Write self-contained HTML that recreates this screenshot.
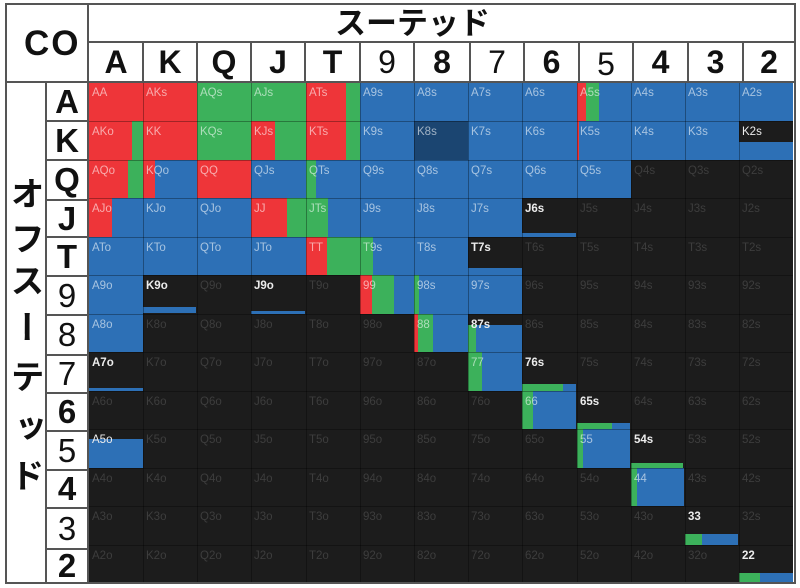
<!DOCTYPE html>
<html><head><meta charset="utf-8">
<style>
*{margin:0;padding:0;box-sizing:border-box}
html,body{width:800px;height:588px;background:#fff;overflow:hidden}
body{position:relative;font-family:"Liberation Sans","Noto Sans CJK JP",sans-serif}
.a{position:absolute}
#g{position:absolute;left:89px;top:82px;width:704px;height:500px;background:#1c1c1c}
.f{position:absolute}
.R{background:#ee3539}.G{background:#3cb15b}.B{background:#2d70b6}.D{background:#1b4571}
.vl{position:absolute;top:82px;width:1px;height:500px;background:rgba(0,0,0,.32)}
.hl{position:absolute;left:89px;width:704px;height:1px;background:rgba(0,0,0,.32)}
.r{position:absolute;left:0;width:800px;height:14px}
.r i{position:absolute;font-style:normal;font-size:11.5px;line-height:12px;white-space:nowrap}
.c{color:rgba(255,255,255,.58)}
.b{color:#ececec;font-weight:bold}
.d{color:#3d3d3d}
.ln{position:absolute;background:#555}
.hd{position:absolute;top:46px;height:32px;font-size:32px;line-height:32px;font-weight:bold;text-align:center;color:#111}
.lb{position:absolute;left:46px;width:42px;font-size:33px;line-height:33px;font-weight:bold;text-align:center;color:#111}
.v{position:absolute;left:7px;width:40px;height:34px;writing-mode:vertical-rl;font-family:"Noto Sans CJK JP",sans-serif;font-size:34px;line-height:40px;font-weight:bold;color:#111}
</style></head><body>

<div id="g"></div>
<!-- Row A -->
<div class="f R" style="left:89px;top:82px;width:108px;height:39px"></div>
<div class="f G" style="left:197px;top:82px;width:109px;height:39px"></div>
<div class="f R" style="left:306px;top:82px;width:40px;height:39px"></div>
<div class="f G" style="left:346px;top:82px;width:14px;height:39px"></div>
<div class="f B" style="left:360px;top:82px;width:217px;height:39px"></div>
<div class="f R" style="left:577px;top:82px;width:9px;height:39px"></div>
<div class="f G" style="left:586px;top:82px;width:13px;height:39px"></div>
<div class="f B" style="left:599px;top:82px;width:194px;height:39px"></div>
<!-- Row K -->
<div class="f R" style="left:89px;top:121px;width:43px;height:39px"></div>
<div class="f G" style="left:132px;top:121px;width:11px;height:39px"></div>
<div class="f R" style="left:143px;top:121px;width:54px;height:39px"></div>
<div class="f G" style="left:197px;top:121px;width:54px;height:39px"></div>
<div class="f R" style="left:251px;top:121px;width:24px;height:39px"></div>
<div class="f G" style="left:275px;top:121px;width:31px;height:39px"></div>
<div class="f R" style="left:306px;top:121px;width:40px;height:39px"></div>
<div class="f G" style="left:346px;top:121px;width:14px;height:39px"></div>
<div class="f B" style="left:360px;top:121px;width:54px;height:39px"></div>
<div class="f D" style="left:414px;top:121px;width:54px;height:39px"></div>
<div class="f B" style="left:468px;top:121px;width:271px;height:39px"></div>
<div class="f R" style="left:577px;top:121px;width:2px;height:39px"></div>
<div class="f B" style="left:739px;top:142px;width:54px;height:18px"></div>
<!-- Row Q -->
<div class="f R" style="left:89px;top:160px;width:39px;height:38px"></div>
<div class="f G" style="left:128px;top:160px;width:15px;height:38px"></div>
<div class="f R" style="left:143px;top:160px;width:12px;height:38px"></div>
<div class="f B" style="left:155px;top:160px;width:42px;height:38px"></div>
<div class="f R" style="left:197px;top:160px;width:54px;height:38px"></div>
<div class="f B" style="left:251px;top:160px;width:55px;height:38px"></div>
<div class="f G" style="left:306px;top:160px;width:10px;height:38px"></div>
<div class="f B" style="left:316px;top:160px;width:315px;height:38px"></div>
<!-- Row J -->
<div class="f R" style="left:89px;top:198px;width:23px;height:39px"></div>
<div class="f B" style="left:112px;top:198px;width:139px;height:39px"></div>
<div class="f R" style="left:251px;top:198px;width:36px;height:39px"></div>
<div class="f G" style="left:287px;top:198px;width:19px;height:39px"></div>
<div class="f G" style="left:306px;top:198px;width:22px;height:39px"></div>
<div class="f B" style="left:328px;top:198px;width:194px;height:39px"></div>
<div class="f B" style="left:522px;top:233px;width:54px;height:4px"></div>
<!-- Row T -->
<div class="f B" style="left:89px;top:237px;width:217px;height:38px"></div>
<div class="f R" style="left:306px;top:237px;width:21px;height:38px"></div>
<div class="f G" style="left:327px;top:237px;width:33px;height:38px"></div>
<div class="f G" style="left:360px;top:237px;width:13px;height:38px"></div>
<div class="f B" style="left:373px;top:237px;width:95px;height:38px"></div>
<div class="f B" style="left:468px;top:268px;width:54px;height:7px"></div>
<!-- Row 9 -->
<div class="f B" style="left:89px;top:275px;width:54px;height:39px"></div>
<div class="f B" style="left:143px;top:307px;width:53px;height:6px"></div>
<div class="f B" style="left:251px;top:311px;width:54px;height:3px"></div>
<div class="f R" style="left:360px;top:275px;width:12px;height:39px"></div>
<div class="f G" style="left:372px;top:275px;width:22px;height:39px"></div>
<div class="f B" style="left:394px;top:275px;width:20px;height:39px"></div>
<div class="f G" style="left:414px;top:275px;width:5px;height:39px"></div>
<div class="f B" style="left:419px;top:275px;width:103px;height:39px"></div>
<!-- Row 8 -->
<div class="f B" style="left:89px;top:314px;width:54px;height:38px"></div>
<div class="f R" style="left:414px;top:314px;width:4px;height:38px"></div>
<div class="f G" style="left:418px;top:314px;width:15px;height:38px"></div>
<div class="f B" style="left:433px;top:314px;width:35px;height:38px"></div>
<div class="f G" style="left:468px;top:325px;width:8px;height:27px"></div>
<div class="f B" style="left:476px;top:325px;width:46px;height:27px"></div>
<!-- Row 7 -->
<div class="f B" style="left:89px;top:388px;width:54px;height:3px"></div>
<div class="f G" style="left:468px;top:352px;width:14px;height:39px"></div>
<div class="f B" style="left:482px;top:352px;width:40px;height:39px"></div>
<div class="f G" style="left:522px;top:384px;width:41px;height:7px"></div>
<div class="f B" style="left:563px;top:384px;width:13px;height:7px"></div>
<!-- Row 6 -->
<div class="f G" style="left:522px;top:391px;width:11px;height:38px"></div>
<div class="f B" style="left:533px;top:391px;width:43px;height:38px"></div>
<div class="f G" style="left:577px;top:423px;width:35px;height:6px"></div>
<div class="f B" style="left:612px;top:423px;width:18px;height:6px"></div>
<!-- Row 5 -->
<div class="f B" style="left:89px;top:439px;width:54px;height:29px"></div>
<div class="f G" style="left:577px;top:429px;width:6px;height:39px"></div>
<div class="f B" style="left:583px;top:429px;width:47px;height:39px"></div>
<div class="f G" style="left:631px;top:463px;width:52px;height:5px"></div>
<!-- Row 4 -->
<div class="f G" style="left:631px;top:468px;width:6px;height:38px"></div>
<div class="f B" style="left:637px;top:468px;width:47px;height:38px"></div>
<!-- Row 3 / 2 -->
<div class="f G" style="left:685px;top:534px;width:17px;height:11px"></div>
<div class="f B" style="left:702px;top:534px;width:36px;height:11px"></div>
<div class="f G" style="left:739px;top:573px;width:21px;height:9px"></div>
<div class="f B" style="left:760px;top:573px;width:33px;height:9px"></div>

<!-- grid lines -->
<div class="vl" style="left:143px"></div><div class="vl" style="left:197px"></div><div class="vl" style="left:251px"></div><div class="vl" style="left:306px"></div><div class="vl" style="left:360px"></div><div class="vl" style="left:414px"></div><div class="vl" style="left:468px"></div><div class="vl" style="left:522px"></div><div class="vl" style="left:577px"></div><div class="vl" style="left:631px"></div><div class="vl" style="left:685px"></div><div class="vl" style="left:739px"></div>
<div class="hl" style="top:121px"></div><div class="hl" style="top:160px"></div><div class="hl" style="top:198px"></div><div class="hl" style="top:237px"></div><div class="hl" style="top:275px"></div><div class="hl" style="top:314px"></div><div class="hl" style="top:352px"></div><div class="hl" style="top:391px"></div><div class="hl" style="top:429px"></div><div class="hl" style="top:468px"></div><div class="hl" style="top:506px"></div><div class="hl" style="top:545px"></div>

<!-- labels -->
<div class="r" style="top:87px"><i class="c" style="left:92px">AA</i><i class="c" style="left:146px">AKs</i><i class="c" style="left:200px">AQs</i><i class="c" style="left:254px">AJs</i><i class="c" style="left:309px">ATs</i><i class="c" style="left:363px">A9s</i><i class="c" style="left:417px">A8s</i><i class="c" style="left:471px">A7s</i><i class="c" style="left:525px">A6s</i><i class="c" style="left:580px">A5s</i><i class="c" style="left:634px">A4s</i><i class="c" style="left:688px">A3s</i><i class="c" style="left:742px">A2s</i></div>
<div class="r" style="top:126px"><i class="c" style="left:92px">AKo</i><i class="c" style="left:146px">KK</i><i class="c" style="left:200px">KQs</i><i class="c" style="left:254px">KJs</i><i class="c" style="left:309px">KTs</i><i class="c" style="left:363px">K9s</i><i class="c" style="left:417px">K8s</i><i class="c" style="left:471px">K7s</i><i class="c" style="left:525px">K6s</i><i class="c" style="left:580px">K5s</i><i class="c" style="left:634px">K4s</i><i class="c" style="left:688px">K3s</i><i class="b" style="left:742px;font-weight:normal">K2s</i></div>
<div class="r" style="top:165px"><i class="c" style="left:92px">AQo</i><i class="c" style="left:146px">KQo</i><i class="c" style="left:200px">QQ</i><i class="c" style="left:254px">QJs</i><i class="c" style="left:309px">QTs</i><i class="c" style="left:363px">Q9s</i><i class="c" style="left:417px">Q8s</i><i class="c" style="left:471px">Q7s</i><i class="c" style="left:525px">Q6s</i><i class="c" style="left:580px">Q5s</i><i class="d" style="left:634px">Q4s</i><i class="d" style="left:688px">Q3s</i><i class="d" style="left:742px">Q2s</i></div>
<div class="r" style="top:203px"><i class="c" style="left:92px">AJo</i><i class="c" style="left:146px">KJo</i><i class="c" style="left:200px">QJo</i><i class="c" style="left:254px">JJ</i><i class="c" style="left:309px">JTs</i><i class="c" style="left:363px">J9s</i><i class="c" style="left:417px">J8s</i><i class="c" style="left:471px">J7s</i><i class="b" style="left:525px">J6s</i><i class="d" style="left:580px">J5s</i><i class="d" style="left:634px">J4s</i><i class="d" style="left:688px">J3s</i><i class="d" style="left:742px">J2s</i></div>
<div class="r" style="top:242px"><i class="c" style="left:92px">ATo</i><i class="c" style="left:146px">KTo</i><i class="c" style="left:200px">QTo</i><i class="c" style="left:254px">JTo</i><i class="c" style="left:309px">TT</i><i class="c" style="left:363px">T9s</i><i class="c" style="left:417px">T8s</i><i class="b" style="left:471px">T7s</i><i class="d" style="left:525px">T6s</i><i class="d" style="left:580px">T5s</i><i class="d" style="left:634px">T4s</i><i class="d" style="left:688px">T3s</i><i class="d" style="left:742px">T2s</i></div>
<div class="r" style="top:280px"><i class="c" style="left:92px">A9o</i><i class="b" style="left:146px">K9o</i><i class="d" style="left:200px">Q9o</i><i class="b" style="left:254px">J9o</i><i class="d" style="left:309px">T9o</i><i class="c" style="left:363px">99</i><i class="c" style="left:417px">98s</i><i class="c" style="left:471px">97s</i><i class="d" style="left:525px">96s</i><i class="d" style="left:580px">95s</i><i class="d" style="left:634px">94s</i><i class="d" style="left:688px">93s</i><i class="d" style="left:742px">92s</i></div>
<div class="r" style="top:319px"><i class="c" style="left:92px">A8o</i><i class="d" style="left:146px">K8o</i><i class="d" style="left:200px">Q8o</i><i class="d" style="left:254px">J8o</i><i class="d" style="left:309px">T8o</i><i class="d" style="left:363px">98o</i><i class="c" style="left:417px">88</i><i class="b" style="left:471px">87s</i><i class="d" style="left:525px">86s</i><i class="d" style="left:580px">85s</i><i class="d" style="left:634px">84s</i><i class="d" style="left:688px">83s</i><i class="d" style="left:742px">82s</i></div>
<div class="r" style="top:357px"><i class="b" style="left:92px">A7o</i><i class="d" style="left:146px">K7o</i><i class="d" style="left:200px">Q7o</i><i class="d" style="left:254px">J7o</i><i class="d" style="left:309px">T7o</i><i class="d" style="left:363px">97o</i><i class="d" style="left:417px">87o</i><i class="c" style="left:471px">77</i><i class="b" style="left:525px">76s</i><i class="d" style="left:580px">75s</i><i class="d" style="left:634px">74s</i><i class="d" style="left:688px">73s</i><i class="d" style="left:742px">72s</i></div>
<div class="r" style="top:396px"><i class="d" style="left:92px">A6o</i><i class="d" style="left:146px">K6o</i><i class="d" style="left:200px">Q6o</i><i class="d" style="left:254px">J6o</i><i class="d" style="left:309px">T6o</i><i class="d" style="left:363px">96o</i><i class="d" style="left:417px">86o</i><i class="d" style="left:471px">76o</i><i class="c" style="left:525px">66</i><i class="b" style="left:580px">65s</i><i class="d" style="left:634px">64s</i><i class="d" style="left:688px">63s</i><i class="d" style="left:742px">62s</i></div>
<div class="r" style="top:434px"><i class="b" style="left:92px;font-weight:normal">A5o</i><i class="d" style="left:146px">K5o</i><i class="d" style="left:200px">Q5o</i><i class="d" style="left:254px">J5o</i><i class="d" style="left:309px">T5o</i><i class="d" style="left:363px">95o</i><i class="d" style="left:417px">85o</i><i class="d" style="left:471px">75o</i><i class="d" style="left:525px">65o</i><i class="c" style="left:580px">55</i><i class="b" style="left:634px">54s</i><i class="d" style="left:688px">53s</i><i class="d" style="left:742px">52s</i></div>
<div class="r" style="top:473px"><i class="d" style="left:92px">A4o</i><i class="d" style="left:146px">K4o</i><i class="d" style="left:200px">Q4o</i><i class="d" style="left:254px">J4o</i><i class="d" style="left:309px">T4o</i><i class="d" style="left:363px">94o</i><i class="d" style="left:417px">84o</i><i class="d" style="left:471px">74o</i><i class="d" style="left:525px">64o</i><i class="d" style="left:580px">54o</i><i class="c" style="left:634px">44</i><i class="d" style="left:688px">43s</i><i class="d" style="left:742px">42s</i></div>
<div class="r" style="top:511px"><i class="d" style="left:92px">A3o</i><i class="d" style="left:146px">K3o</i><i class="d" style="left:200px">Q3o</i><i class="d" style="left:254px">J3o</i><i class="d" style="left:309px">T3o</i><i class="d" style="left:363px">93o</i><i class="d" style="left:417px">83o</i><i class="d" style="left:471px">73o</i><i class="d" style="left:525px">63o</i><i class="d" style="left:580px">53o</i><i class="d" style="left:634px">43o</i><i class="b" style="left:688px">33</i><i class="d" style="left:742px">32s</i></div>
<div class="r" style="top:550px"><i class="d" style="left:92px">A2o</i><i class="d" style="left:146px">K2o</i><i class="d" style="left:200px">Q2o</i><i class="d" style="left:254px">J2o</i><i class="d" style="left:309px">T2o</i><i class="d" style="left:363px">92o</i><i class="d" style="left:417px">82o</i><i class="d" style="left:471px">72o</i><i class="d" style="left:525px">62o</i><i class="d" style="left:580px">52o</i><i class="d" style="left:634px">42o</i><i class="d" style="left:688px">32o</i><i class="b" style="left:742px">22</i></div>

<!-- header frame lines -->
<div class="ln" style="left:5px;top:3px;width:791px;height:2px"></div>
<div class="ln" style="left:5px;top:582px;width:791px;height:2px"></div>
<div class="ln" style="left:5px;top:3px;width:2px;height:581px"></div>
<div class="ln" style="left:794px;top:3px;width:2px;height:581px"></div>
<div class="ln" style="left:88px;top:41px;width:708px;height:2px"></div>
<div class="ln" style="left:5px;top:81px;width:791px;height:2px"></div>
<div class="ln" style="left:87px;top:3px;width:2px;height:581px"></div>
<div class="ln" style="left:45px;top:81px;width:2px;height:503px"></div>
<!-- rank header dividers -->
<div class="ln" style="left:142px;top:41px;width:2px;height:41px"></div>
<div class="ln" style="left:196px;top:41px;width:2px;height:41px"></div>
<div class="ln" style="left:250px;top:41px;width:2px;height:41px"></div>
<div class="ln" style="left:304px;top:41px;width:2px;height:41px"></div>
<div class="ln" style="left:359px;top:41px;width:2px;height:41px"></div>
<div class="ln" style="left:413px;top:41px;width:2px;height:41px"></div>
<div class="ln" style="left:469px;top:41px;width:2px;height:41px"></div>
<div class="ln" style="left:523px;top:41px;width:2px;height:41px"></div>
<div class="ln" style="left:578px;top:41px;width:2px;height:41px"></div>
<div class="ln" style="left:632px;top:41px;width:2px;height:41px"></div>
<div class="ln" style="left:687px;top:41px;width:2px;height:41px"></div>
<div class="ln" style="left:742px;top:41px;width:2px;height:41px"></div>
<!-- row label dividers -->
<div class="ln" style="left:45px;top:120px;width:43px;height:2px"></div>
<div class="ln" style="left:45px;top:159px;width:43px;height:2px"></div>
<div class="ln" style="left:45px;top:199px;width:43px;height:2px"></div>
<div class="ln" style="left:45px;top:236px;width:43px;height:2px"></div>
<div class="ln" style="left:45px;top:275px;width:43px;height:2px"></div>
<div class="ln" style="left:45px;top:314px;width:43px;height:2px"></div>
<div class="ln" style="left:45px;top:354px;width:43px;height:2px"></div>
<div class="ln" style="left:45px;top:392px;width:43px;height:2px"></div>
<div class="ln" style="left:45px;top:430px;width:43px;height:2px"></div>
<div class="ln" style="left:45px;top:469px;width:43px;height:2px"></div>
<div class="ln" style="left:45px;top:507px;width:43px;height:2px"></div>
<div class="ln" style="left:45px;top:548px;width:43px;height:2px"></div>

<!-- header texts -->
<div class="a" style="left:24px;top:26px;font-size:35px;line-height:35px;font-weight:bold;letter-spacing:2px;color:#111">CO</div>
<div class="a" style="left:335px;top:4px;font-family:'Noto Sans CJK JP',sans-serif;font-size:31px;line-height:34px;font-weight:bold;color:#111;white-space:nowrap">スーテッド</div>

<div class="hd" style="left:89px;width:54px">A</div>
<div class="hd" style="left:143px;width:54px">K</div>
<div class="hd" style="left:197px;width:54px">Q</div>
<div class="hd" style="left:251px;width:54px">J</div>
<div class="hd" style="left:305px;width:55px">T</div>
<div class="hd" style="left:360px;width:54px;font-weight:normal">9</div>
<div class="hd" style="left:414px;width:56px">8</div>
<div class="hd" style="left:470px;width:54px;font-weight:normal">7</div>
<div class="hd" style="left:524px;width:55px">6</div>
<div class="hd" style="left:579px;width:54px;font-weight:normal;top:48px">5</div>
<div class="hd" style="left:633px;width:55px">4</div>
<div class="hd" style="left:688px;width:55px">3</div>
<div class="hd" style="left:743px;width:52px">2</div>

<div class="lb" style="top:85px">A</div>
<div class="lb" style="top:124px">K</div>
<div class="lb" style="top:163px">Q</div>
<div class="lb" style="top:202px">J</div>
<div class="lb" style="top:240px">T</div>
<div class="lb" style="top:279px;font-weight:normal">9</div>
<div class="lb" style="top:318px;font-weight:normal">8</div>
<div class="lb" style="top:357px;font-weight:normal">7</div>
<div class="lb" style="top:395px">6</div>
<div class="lb" style="top:434px;font-weight:normal">5</div>
<div class="lb" style="top:472px">4</div>
<div class="lb" style="top:512px;font-weight:normal">3</div>
<div class="lb" style="top:549px">2</div>

<div class="v" style="top:176px">オ</div>
<div class="v" style="top:221px">フ</div>
<div class="v" style="top:263px">ス</div>
<div class="v" style="top:310px">ー</div>
<div class="v" style="top:359px">テ</div>
<div class="v" style="top:411px">ッ</div>
<div class="v" style="top:458px">ド</div>

</body></html>
